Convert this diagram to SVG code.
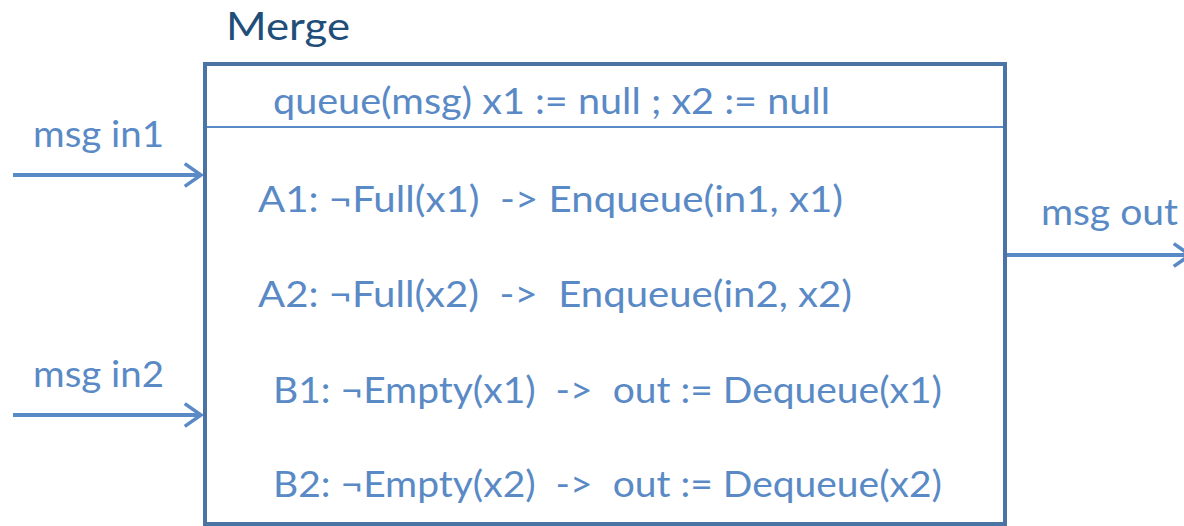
<svg xmlns="http://www.w3.org/2000/svg" width="1184" height="526" viewBox="0 0 1184 526">
<defs>
<style>
.t{font-family:Lato,"Open Sans","Liberation Sans",sans-serif;fill:#5a8ac6;font-size:37px;white-space:pre}
.title{font-family:Lato,"Open Sans","Liberation Sans",sans-serif;fill:#1f4e79;font-size:38px}
.conn{stroke:#5a8ac6;stroke-width:4;fill:none}
</style>
<marker id="arr" viewBox="0 0 12 16" refX="11" refY="8" markerWidth="5" markerHeight="6.5" markerUnits="strokeWidth" orient="auto">
<path d="M1,1 L11,8 L1,15" fill="none" stroke="#5a8ac6" stroke-width="2.2"/>
</marker>
</defs>
<rect width="1184" height="526" fill="#fff"/>
<g id="merge">
<text class="title" x="226" y="40" textLength="124" lengthAdjust="spacingAndGlyphs">Merge</text>
<rect x="205" y="64" width="800" height="460" fill="none" stroke="#4a74a3" stroke-width="4"/>
<line x1="207" y1="127" x2="1003" y2="127" stroke="#5a8ac6" stroke-width="2"/>
<text class="t" xml:space="preserve" x="273" y="114" textLength="557" lengthAdjust="spacingAndGlyphs">queue(msg) x1 := null ; x2 := null</text>
<text class="t" xml:space="preserve" x="258" y="212" textLength="585" lengthAdjust="spacingAndGlyphs">A1: ¬Full(x1)  -&gt; Enqueue(in1, x1)</text>
<text class="t" xml:space="preserve" x="258" y="307" textLength="594" lengthAdjust="spacingAndGlyphs">A2: ¬Full(x2)  -&gt;  Enqueue(in2, x2)</text>
<text class="t" xml:space="preserve" x="273" y="403" textLength="669" lengthAdjust="spacingAndGlyphs">B1: ¬Empty(x1)  -&gt;  out := Dequeue(x1)</text>
<text class="t" xml:space="preserve" x="273" y="497" textLength="669" lengthAdjust="spacingAndGlyphs">B2: ¬Empty(x2)  -&gt;  out := Dequeue(x2)</text>
</g>
<g id="labels">
<text class="t" x="33" y="147" textLength="131" lengthAdjust="spacingAndGlyphs">msg in1</text>
<text class="t" x="33" y="387" textLength="131" lengthAdjust="spacingAndGlyphs">msg in2</text>
<text class="t" x="1041" y="225" textLength="137" lengthAdjust="spacingAndGlyphs">msg out</text>
</g>
<g id="connectors">
<line class="conn" x1="13" y1="175" x2="201" y2="175" marker-end="url(#arr)"/>
<line class="conn" x1="13" y1="415" x2="201" y2="415" marker-end="url(#arr)"/>
<line class="conn" x1="1007" y1="255" x2="1190" y2="255" marker-end="url(#arr)"/>
</g>
</svg>
